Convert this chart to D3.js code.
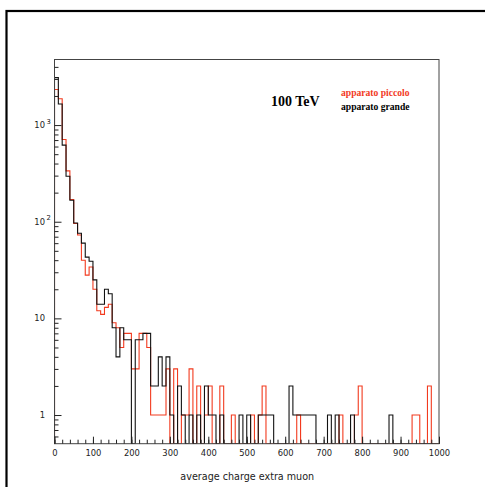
<!DOCTYPE html>
<html>
<head>
<meta charset="utf-8">
<script src="https://cdn.jsdelivr.net/npm/d3@7"></script>
<style>
  html, body { margin: 0; padding: 0; background: #fff; }
  svg { display: block; }
</style>
</head>
<body>
<svg id="chart" width="485" height="487"></svg>
<script>
// Histogram binning: 100 bins of width 10 over 0..1000
const binWidth = 10;
const xMin = 0, xMax = 1000;

// Counts per bin, "apparato piccolo" (red)
const piccolo = [
  2330, 1870, 710, 336, 170, 96, 73, 40, 28, 34,
  20, 12, 11, 13, 14, 9, 8, 5, 7, 7,
  3, 3, 7, 7, 5, 1, 1, 1, 1, 3,
  0, 3, 0, 1, 1, 3, 0, 2, 0, 1,
  2, 0, 0, 2, 0, 0, 1, 0, 0, 0,
  0, 1, 0, 1, 2, 0, 0, 0, 0, 0,
  0, 0, 0, 1, 0, 0, 0, 0, 0, 0,
  0, 0, 0, 0, 1, 0, 0, 0, 1, 2,
  0, 0, 0, 0, 0, 0, 0, 0, 0, 0,
  0, 0, 0, 1, 1, 0, 0, 2, 0, 0
];

// Counts per bin, "apparato grande" (black)
const grande = [
  3100, 1650, 620, 296, 167, 97, 76, 60, 43, 39,
  25, 14, 14, 20, 18, 8, 4, 8, 6, 6,
  0, 6, 6, 7, 7, 2, 2, 4, 2, 4,
  1, 0, 2, 1, 0, 1, 0, 1, 0, 2,
  1, 1, 0, 1, 0, 0, 0, 0, 1, 0,
  1, 0, 0, 1, 1, 1, 1, 0, 0, 0,
  0, 2, 1, 1, 1, 1, 1, 1, 0, 0,
  0, 1, 0, 1, 0, 0, 0, 1, 0, 0,
  0, 0, 0, 0, 0, 0, 0, 1, 0, 0,
  0, 0, 0, 0, 0, 0, 0, 0, 0, 0
];

// Axis ticks
const xMajorTicks = [0, 100, 200, 300, 400, 500, 600, 700, 800, 900, 1000];
const xMinorTicks = d3.range(0, 1001, 20);
const yDecades = [1, 10, 100, 1000];
const yLabels = [
  { base: "1", exp: "" },
  { base: "10", exp: "" },
  { base: "10", exp: "2" },
  { base: "10", exp: "3" }
];
const xTitle = "average charge extra muon";
const energyLabel = "100 TeV";
const seriesNames = ["apparato piccolo", "apparato grande"];

// Geometry
const plot = { left: 54.5, right: 439, top: 59.5, bottom: 443.7 };
const red = "#f23a1e";
const ink = "#111";
const tickFont = "'DejaVu Sans', sans-serif";
const serif = "'Liberation Serif', 'Times New Roman', serif";

const svg = d3.select("#chart");

// Outer page frame
svg.append("rect")
  .attr("x", 6.5).attr("y", 11)
  .attr("width", 520).attr("height", 520)
  .attr("fill", "none").attr("stroke", "#000").attr("stroke-width", 2.2);

const x = d3.scaleLinear().domain([xMin, xMax]).range([plot.left, plot.right]);
const y = d3.scaleLog().domain([0.505, 4770]).range([plot.bottom, plot.top]).clamp(true);

svg.append("defs").append("clipPath").attr("id", "plotClip")
  .append("rect")
  .attr("x", plot.left).attr("y", plot.top)
  .attr("width", plot.right - plot.left).attr("height", plot.bottom - plot.top);

// Step outline of one histogram
function stepPoints(counts) {
  const pts = [[x(xMin), y.range()[0]]];
  counts.forEach((c, i) => {
    const yy = c > 0 ? y(c) : y.range()[0];
    pts.push([x(xMin + i * binWidth), yy]);
    pts.push([x(xMin + (i + 1) * binWidth), yy]);
  });
  pts.push([x(xMax), y.range()[0]]);
  return pts;
}

const line = d3.line();
const histG = svg.append("g").attr("clip-path", "url(#plotClip)");
histG.append("path")
  .attr("d", line(stepPoints(piccolo)))
  .attr("fill", "none").attr("stroke", red).attr("stroke-width", 1.1);
histG.append("path")
  .attr("d", line(stepPoints(grande)))
  .attr("fill", "none").attr("stroke", ink).attr("stroke-width", 1.1);

// Plot frame
svg.append("rect")
  .attr("x", plot.left).attr("y", plot.top)
  .attr("width", plot.right - plot.left).attr("height", plot.bottom - plot.top)
  .attr("fill", "none").attr("stroke", "#444").attr("stroke-width", 1);

// X axis: minor ticks, then major ticks with labels (ticks point inward)
const xMinorAxis = d3.axisBottom(x).tickValues(xMinorTicks).tickSize(-4).tickFormat("");
const xMajorAxis = d3.axisBottom(x).tickValues(xMajorTicks).tickSize(-7).tickPadding(6)
  .tickFormat(d3.format("d"));

const gxMinor = svg.append("g").attr("transform", `translate(0,${plot.bottom})`).call(xMinorAxis);
const gxMajor = svg.append("g").attr("transform", `translate(0,${plot.bottom})`).call(xMajorAxis);
[gxMinor, gxMajor].forEach(g => {
  g.select(".domain").remove();
  g.selectAll(".tick line").attr("stroke", "#222");
});
gxMajor.selectAll(".tick text")
  .attr("font-family", tickFont).attr("font-size", 8.4).attr("fill", "#222");

// Y axis: log ticks 2..9 per decade plus decades (ticks point inward)
const yMinorTicks = [];
for (let e = -1; e <= 3; e++) {
  for (let m = 2; m <= 9; m++) {
    const v = m * Math.pow(10, e);
    if (v >= y.domain()[0] && v <= y.domain()[1]) yMinorTicks.push(v);
  }
}
const yMinorAxis = d3.axisLeft(y).tickValues(yMinorTicks).tickSize(-4).tickFormat("");
const yMajorAxis = d3.axisLeft(y).tickValues(yDecades).tickSize(-7).tickFormat("");
const gyMinor = svg.append("g").attr("transform", `translate(${plot.left},0)`).call(yMinorAxis);
const gyMajor = svg.append("g").attr("transform", `translate(${plot.left},0)`).call(yMajorAxis);
[gyMinor, gyMajor].forEach(g => {
  g.select(".domain").remove();
  g.selectAll(".tick line").attr("stroke", "#222");
});

// Y labels with exponent
const yl = svg.append("g")
  .attr("font-family", tickFont).attr("fill", "#222");
yDecades.forEach((v, i) => {
  const yy = y(v);
  yl.append("text")
    .attr("x", 45).attr("y", yy + 3)
    .attr("text-anchor", "end").attr("font-size", 8.4)
    .text(yLabels[i].base);
  if (yLabels[i].exp) {
    yl.append("text")
      .attr("x", 46.5).attr("y", yy - 1.5)
      .attr("font-size", 6.8)
      .text(yLabels[i].exp);
  }
});

// X axis title
svg.append("text")
  .attr("x", (plot.left + plot.right) / 2 + 0.5).attr("y", 479.5)
  .attr("text-anchor", "middle")
  .attr("font-family", tickFont).attr("font-size", 9.6).attr("fill", "#222")
  .text(xTitle);

// Energy label and legend
svg.append("text")
  .attr("x", 271).attr("y", 106)
  .attr("font-family", serif).attr("font-weight", "bold").attr("font-size", 14)
  .attr("fill", "#000")
  .text(energyLabel);

svg.append("text")
  .attr("x", 341).attr("y", 95.5)
  .attr("font-family", serif).attr("font-weight", "bold").attr("font-size", 9.6)
  .attr("fill", red)
  .text(seriesNames[0]);

svg.append("text")
  .attr("x", 341).attr("y", 109.5)
  .attr("font-family", serif).attr("font-weight", "bold").attr("font-size", 9.6)
  .attr("fill", "#000")
  .text(seriesNames[1]);
</script>
</body>
</html>
